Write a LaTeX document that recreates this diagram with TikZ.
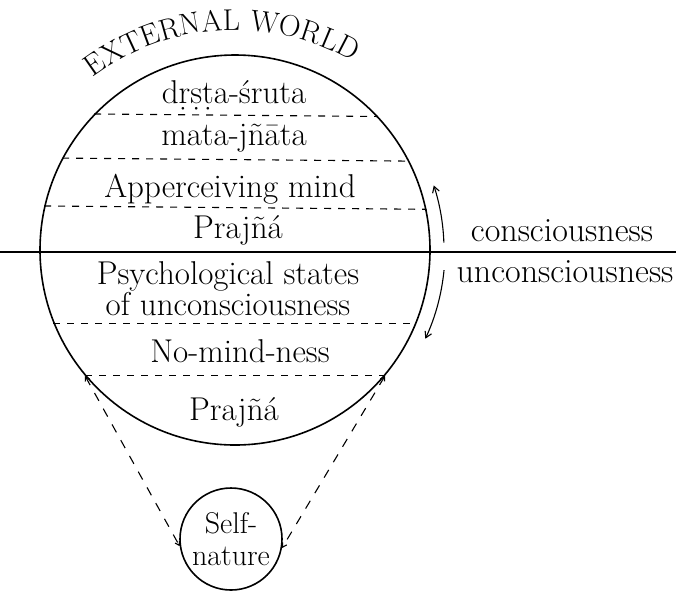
\documentclass[tikz,border=0pt]{standalone}
\usepackage{fontspec}
\setmainfont{Latin Modern Roman}
\usetikzlibrary{decorations.text,arrows.meta}
\begin{document}
\begin{tikzpicture}[x=1pt,y=1pt,
  lbl/.style={anchor=base, inner sep=0pt, font=\fontsize{33}{31}\selectfont},
  side/.style={anchor=base, inner sep=0pt, font=\fontsize{34}{34}\selectfont},
  chord/.style={dash pattern=on 7pt off 7pt, line width=1.1pt},
  conn/.style={dash pattern=on 9pt off 9pt, line width=1.1pt},
  flowarc/.style={line width=1.1pt, -{Straight Barb[length=6pt,width=7pt]}},
  ring/.style={circle, draw, line width=1.6pt, inner sep=0pt}]
\useasboundingbox (0,0) rectangle (676,-590);

% main circle
\node[ring, minimum size=390pt] (big) at (235,-250) {};

% horizontal line
\coordinate (hl) at (0,-252);
\coordinate (hr) at (676,-252);
\draw[line width=1.2pt] (hl) -- (hr);

% chords
\draw[chord] (big.136.2) -- (big.43.8);
\draw[chord] (big.152.5) -- (big.27.5);
\draw[chord] (big.167.3) -- (big.12.7);
\draw[chord] (big.202.9) -- (big.-22.9);
\draw[chord] (big.220.3) -- (big.-40.3);

% labels inside circle
\node[lbl] (t1) at (234,-103) {dṛṣṭa-śruta};
\node[lbl] (t2) at (234,-145) {mata-jñāta};
\node[lbl] (t3) at (230,-197) {Apperceiving mind};
\node[lbl] (t4) at (238,-238) {Prajñá};
\node[lbl, align=center] (t5) at (228,-315) {Psychological states\\of unconsciousness};
\node[lbl] (t6) at (240,-362) {No-mind-ness};
\node[lbl] (t7) at (234,-420) {Prajñá};

% right labels
\node[side] (cons) at (562,-241) {consciousness};
\node[side] (uncons) at (565,-282) {unconsciousness};

% curved arrows
\draw[flowarc] (big.center) ++(2:209) arc[start angle=2, end angle=18, radius=209];
\draw[flowarc] (big.center) ++(-5.5:210) arc[start angle=-5.5, end angle=-25, radius=210];

% self-nature circle
\node[ring, minimum size=102pt, align=center, font=\fontsize{30}{32}\selectfont] (self) at (231,-539) {Self-\\nature};

% dashed connectors
\draw[conn, {Straight Barb[length=4pt,width=5pt]}-{Straight Barb[length=4pt,width=5pt]}] (big.220) -- (self.188);
\draw[conn, {Straight Barb[length=4pt,width=5pt]}-{Straight Barb[length=4pt,width=5pt]}] (big.-40) -- (self.350);

% curved title
\path[decorate, decoration={text along path,
  text={|\fontsize{30}{30}\selectfont|EXTERNAL WORLD}, text align=center}]
  (80,-88) arc[start angle=131, end angle=56, radius=236];
\end{tikzpicture}
\end{document}
